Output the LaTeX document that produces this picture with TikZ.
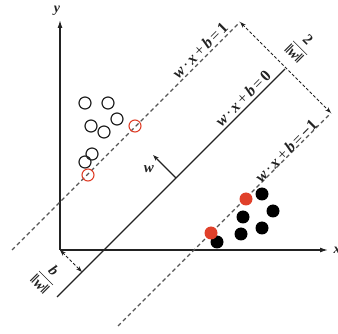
\documentclass[tikz,border=0pt]{standalone}
\usepackage{fontspec}
\setmainfont{Liberation Serif}
\usetikzlibrary{arrows.meta}
\definecolor{ink}{HTML}{222222}
\definecolor{dash}{HTML}{555555}
\definecolor{redc}{HTML}{E0402A}
\newcommand{\bw}{\textbf{\textit{w}}}
\newcommand{\eqlab}[1]{\bw\hspace{0.12em}·\hspace{0.12em}\textbf{\textit{x}}\hspace{0.15em}+\hspace{0.15em}\textbf{\textit{b}}\hspace{0.15em}=\hspace{0.15em}\textbf{#1}}
\newcommand{\nw}{\textbf{\textbardbl\textit{w}\textbardbl}}
\newcommand{\myfrac}[2]{$\dfrac{\hbox{#1}}{\hbox{#2}}$}
\usepackage{amsmath}
\begin{document}
\begin{tikzpicture}[x=1pt,y=-1pt,
  axis/.style={draw=ink,line width=1.3pt,-{Latex[length=8pt,width=5pt]}},
  margin/.style={draw=dash,line width=1.1pt,dash pattern=on 4pt off 3pt},
  sep/.style={draw=ink,line width=1.1pt},
  dimarr/.style={draw=ink,line width=1pt,dash pattern=on 3pt off 2pt,{Stealth[length=6pt,width=4pt]}-{Stealth[length=6pt,width=4pt]}},
  lab/.style={font=\fontsize{16}{18}\selectfont,inner sep=0pt,text=ink},
  frac/.style={font=\fontsize{15}{17}\selectfont,inner sep=0pt,text=ink,rotate=-45},
  opencirc/.style={circle,draw=ink,line width=1.2pt,minimum size=12pt,inner sep=0pt},
  redopen/.style={circle,draw=redc,line width=1.1pt,minimum size=12pt,inner sep=0pt},
  fullc/.style={circle,fill=black,minimum size=13pt,inner sep=0pt},
  redfull/.style={circle,fill=redc,minimum size=13pt,inner sep=0pt}]
\useasboundingbox (0,0) rectangle (338,334);
\clip (0,0) rectangle (338,334);
% axes
\coordinate (O) at (60,250);
\coordinate (Ytop) at (60,20);
\coordinate (Xend) at (328,250);
\draw[axis] (O) -- (Ytop);
\draw[axis] (O) -- (Xend);
\node[lab,font=\fontsize{14}{16}\selectfont\itshape\bfseries] (ylab) at (57,11) {y};
\node[lab,font=\fontsize{14}{16}\selectfont\itshape\bfseries] (xlab) at (337,250) {x};
% lines
\coordinate (U1) at (12,250);
\coordinate (U2) at (240,22);
\coordinate (S1) at (57,297);
\coordinate (S2) at (285,69);
\coordinate (L1) at (118,326);
\coordinate (L2) at (331,113);
\draw[margin] (U1) -- (U2);
\draw[sep] (S1) -- (S2);
\draw[margin] (L1) -- (L2);
% distance arrows
\draw[dimarr] (U2) -- (L2);
\coordinate (Bfoot) at (82,272);
\draw[dimarr] (O) -- (Bfoot);
% w arrow
\coordinate (Wbase) at (176,178);
\coordinate (Wtip) at (153,155);
\draw[draw=ink,line width=1.1pt,-{Stealth[length=6pt,width=4pt]}] (Wbase) -- (Wtip);
\node[lab,font=\fontsize{15}{17}\selectfont] (wlab) at (149,169) {\bw};
% labels
\node[lab,rotate=45] (l1) at (200,50) {\eqlab{1}};
\node[lab,rotate=45] (l0) at (243,98) {\eqlab{0}};
\node[lab,rotate=45] (lm) at (286,151) {\eqlab{−1}};
\node[frac] (f2) at (301,47) {\myfrac{\textbf{2}}{\nw}};
\node[frac] (fb) at (47,277) {\myfrac{\textbf{\textit{b}}}{\nw}};
% open circles
\foreach \p/\n in {{(85,103)}/a1,{(108,103)}/a2,{(117,119)}/a3,{(91,126)}/a4,{(104,132)}/a5,{(92,154)}/a6,{(85,162)}/a7}
  \node[opencirc] (\n) at \p {};
\node[redopen] (r1) at (135,126) {};
\node[redopen] (r2) at (88,175) {};
% filled
\foreach \p/\n in {{(262,194)}/b1,{(273,211)}/b2,{(243,217)}/b3,{(262,228)}/b4,{(241,234)}/b5,{(217,242)}/b6}
  \node[fullc] (\n) at \p {};
\node[redfull] (q1) at (211,233) {};
\node[redfull] (q2) at (246,199) {};
\end{tikzpicture}
\end{document}
